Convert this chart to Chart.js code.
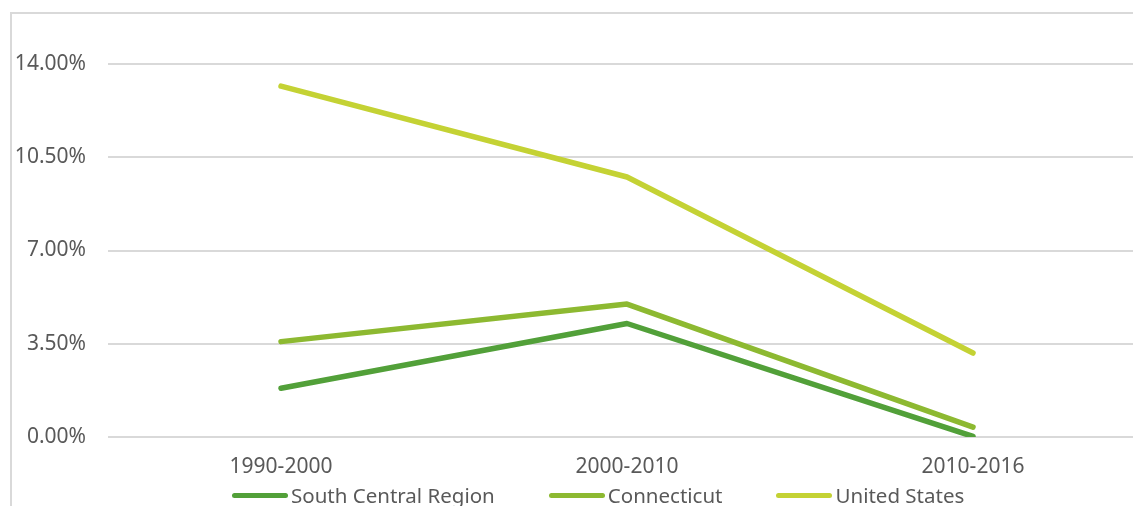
<!DOCTYPE html>
<html>
<head>
<meta charset="utf-8">
<script src="https://cdn.jsdelivr.net/npm/chart.js@4.4.1/dist/chart.umd.min.js"></script>
<style>
    html, body {
        margin: 0;
        padding: 0;
        width: 1133px;
        height: 506px;
        overflow: hidden;
        background: #fff;
        font-family: "Noto Sans", sans-serif;
    }
    #wrap {
        position: relative;
        width: 1133px;
        height: 506px;
    }
    #chart {
        position: absolute;
        left: 0;
        top: 0;
    }
    #frame {
        position: absolute;
        left: 10px;
        top: 12px;
        width: 1200px;
        height: 600px;
        border-top: 2px solid #d9d9d9;
        border-left: 2px solid #d9d9d9;
        pointer-events: none;
    }
    #legend {
        position: absolute;
        left: 0;
        top: 481px;
        width: 1200px;
        display: flex;
        justify-content: flex-start;
        padding-left: 232px;
        box-sizing: border-box;
        font-size: 20.5px;
        color: #595959;
        line-height: 28px;
    }
    #legend .item {
        display: flex;
        align-items: center;
        margin-right: 54px;
        white-space: nowrap;
    }
    #legend .swatch {
        width: 56px;
        height: 5px;
        border-radius: 3px;
        margin-right: 3px;
    }
</style>
</head>
<body>
<div id="wrap">
    <canvas id="chart" width="1146" height="506"></canvas>
    <div id="frame"></div>
    <div id="legend"></div>
</div>
<script>
// data (percent change by decade)
const periods = ['1990-2000', '2000-2010', '2010-2016'];
const southCentral = [1.83, 4.26, 0.02];
const connecticut = [3.58, 4.99, 0.37];
const unitedStates = [13.17, 9.76, 3.15];
const yTicks = [0, 3.5, 7, 10.5, 14];

const seriesNames = ['South Central Region', 'Connecticut', 'United States'];
const seriesColors = ['rgb(82, 160, 57)', 'rgb(141, 185, 49)', 'rgb(196, 210, 52)'];
const seriesValues = [southCentral, connecticut, unitedStates];

const textColor = '#595959';
const gridColor = '#d9d9d9';

let datasets = [];
for (let i = 0; i < seriesNames.length; i++) {
    datasets.push({
        label: seriesNames[i],
        data: seriesValues[i],
        borderColor: seriesColors[i],
        backgroundColor: seriesColors[i],
        borderWidth: 5.5,
        borderCapStyle: 'round',
        borderJoinStyle: 'round',
        pointRadius: 0,
        tension: 0,
        fill: false,
    });
}

const chart = new Chart(document.querySelector('#chart'), {
    type: 'line',
    data: {labels: periods, datasets: datasets},
    options: {
        responsive: false,
        animation: false,
        layout: {padding: {top: 64, bottom: 19, left: 0, right: 0}},
        plugins: {
            legend: {display: false},
            tooltip: {enabled: false},
        },
        scales: {
            x: {
                offset: true,
                grid: {display: false, drawTicks: false},
                border: {display: false},
                ticks: {
                    color: textColor,
                    padding: 17,
                    font: {family: '"Noto Sans", sans-serif', size: 21},
                },
                afterFit: (scale) => {
                    scale.height = 50;
                },
            },
            y: {
                min: 0,
                max: 14,
                afterBuildTicks: (scale) => {
                    scale.ticks = yTicks.map((v) => ({value: v}));
                },
                grid: {color: gridColor, lineWidth: 2, drawTicks: false},
                border: {display: false},
                ticks: {
                    color: textColor,
                    padding: 22,
                    font: {family: '"Noto Sans", sans-serif', size: 21},
                    callback: (v) => v.toFixed(2) + '%',
                },
                afterFit: (scale) => {
                    scale.width = 108;
                },
            },
        },
    },
});

// legend built from the chart's datasets
const legendEl = document.querySelector('#legend');
chart.data.datasets.forEach((ds) => {
    const item = document.createElement('div');
    item.className = 'item';
    const swatch = document.createElement('span');
    swatch.className = 'swatch';
    swatch.style.background = ds.borderColor;
    const label = document.createElement('span');
    label.textContent = ds.label;
    item.appendChild(swatch);
    item.appendChild(label);
    legendEl.appendChild(item);
});
</script>
</body>
</html>
